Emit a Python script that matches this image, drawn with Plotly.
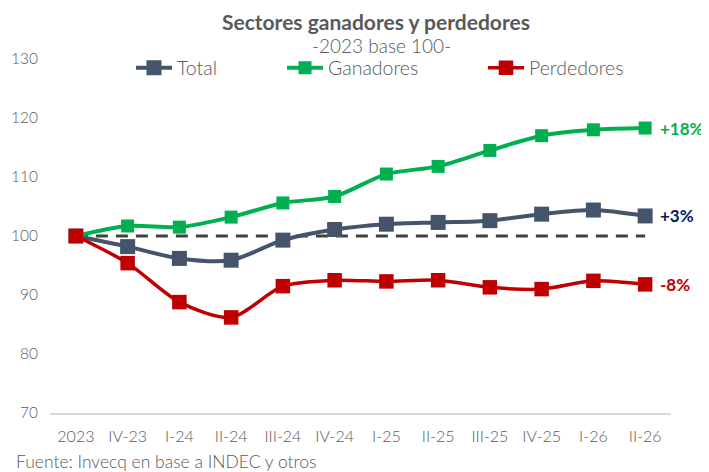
import plotly.graph_objects as go

# Periods and index values (2023 = 100)
periods = ['2023', 'IV-23', 'I-24', 'II-24', 'III-24', 'IV-24', 'I-25', 'II-25', 'III-25', 'IV-25', 'I-26', 'II-26']
total = [100, 98.2, 96.2, 95.9, 99.3, 101.1, 102.0, 102.3, 102.6, 103.7, 104.4, 103.4]
ganadores = [100, 101.7, 101.5, 103.2, 105.6, 106.7, 110.5, 111.8, 114.5, 117.0, 118.0, 118.3]
perdedores = [100, 95.4, 88.8, 86.2, 91.5, 92.5, 92.3, 92.5, 91.3, 91.0, 92.4, 91.8]
base = 100
end_labels = ['+3%', '+18%', '-8%']

FONT = 'Lato'
GREY = '#595959'
colors = {'Total': '#44546A', 'Ganadores': '#00B050', 'Perdedores': '#C00000'}
label_colors = ['#002060', '#00B050', '#C00000']

# the page body adds 8px around the div, so the figure is drawn 8px smaller
W, H = 701, 464
ML, MR, MT, MB = 42, 38, 51, 59
PW, PH = W - ML - MR, H - MT - MB


def px(x):
    return (x - 8 - ML) / PW


def py(y):
    return (H - MB - (y - 8)) / PH


fig = go.Figure()

# dashed reference line at the base value
fig.add_trace(go.Scatter(
    x=periods, y=[base] * len(periods), mode='lines',
    line=dict(color='#404040', width=3, dash='12px,8px'),
    showlegend=False, hoverinfo='skip'
))

series = [('Total', total, 15, 4, 'legend'),
          ('Ganadores', ganadores, 13, 4, 'legend2'),
          ('Perdedores', perdedores, 14.5, 3.5, 'legend3')]

for name, vals, msize, lw, leg in series:
    fig.add_trace(go.Scatter(
        x=periods, y=vals, name=name, mode='lines+markers',
        line=dict(color=colors[name], width=lw, shape='spline', smoothing=0.8),
        marker=dict(symbol='square', size=msize, color=colors[name]),
        legend=leg, cliponaxis=False
    ))

# end-of-line labels
for (name, vals, *_), txt, c in zip(series, end_labels, label_colors):
    fig.add_annotation(x=periods[-1], y=vals[-1], text='<b>' + txt + '</b>',
                       showarrow=False, xanchor='left', yanchor='middle', xshift=13,
                       font=dict(family=FONT, size=17, color=c))

# title as an annotation placed in paper space above the plot
fig.add_annotation(xref='paper', yref='paper', x=px(376), y=py(22),
                   text='<b>Sectores ganadores y perdedores</b>',
                   showarrow=False, xanchor='center', yanchor='middle',
                   font=dict(family=FONT, size=21, color=GREY))
fig.add_annotation(xref='paper', yref='paper', x=px(381), y=py(46), text='-2023 base 100-',
                   showarrow=False, xanchor='center', yanchor='middle',
                   font=dict(family=FONT, size=19, color=GREY, weight=300))
fig.add_annotation(xref='paper', yref='paper', x=px(14), y=py(461),
                   text='Fuente: Invecq en base a INDEC y otros',
                   showarrow=False, xanchor='left', yanchor='middle',
                   font=dict(family=FONT, size=17.5, color=GREY, weight=300))

leg_common = dict(orientation='h', yanchor='middle', y=py(68), xanchor='left', itemwidth=36,
                  bgcolor='rgba(0,0,0,0)', font=dict(family=FONT, size=19.5, color=GREY, weight=300))

fig.update_layout(
    width=W, height=H,
    margin=dict(l=ML, r=MR, t=MT, b=MB, autoexpand=False),
    paper_bgcolor='white', plot_bgcolor='white',
    font=dict(family=FONT, color=GREY),
    legend=dict(x=px(131), **leg_common),
    legend2=dict(x=px(282), **leg_common),
    legend3=dict(x=px(483), **leg_common),
)

fig.update_xaxes(type='category', range=[-0.5, len(periods) - 0.5], showgrid=False, showline=True,
                 linecolor='#D9D9D9', linewidth=2, automargin=False, ticks='', ticklabelstandoff=8,
                 tickfont=dict(family=FONT, size=16, color=GREY, weight=300))
fig.update_yaxes(range=[70, 130], dtick=10, showgrid=False, zeroline=False, showline=False,
                 automargin=False, ticks='', ticklabelstandoff=11,
                 tickfont=dict(family=FONT, size=15.5, color=GREY, weight=300))

fig.write_html('out.html')
